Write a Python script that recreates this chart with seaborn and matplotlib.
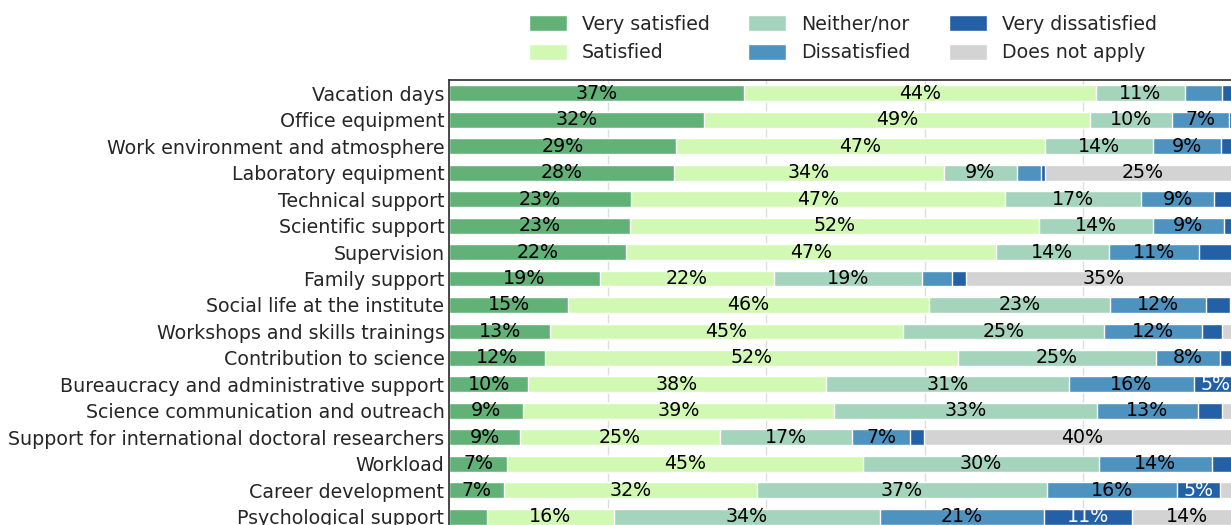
import pandas as pd
import seaborn as sns
import matplotlib.pyplot as plt
from matplotlib.patches import Patch

topics = [
    "Vacation days", "Office equipment", "Work environment and atmosphere",
    "Laboratory equipment", "Technical support", "Scientific support",
    "Supervision", "Family support", "Social life at the institute",
    "Workshops and skills trainings", "Contribution to science",
    "Bureaucracy and administrative support", "Science communication and outreach",
    "Support for international doctoral researchers", "Workload",
    "Career development", "Psychological support",
]

very_satisfied = [37.2, 32.2, 28.6, 28.4, 22.9, 22.8, 22.3, 19.0, 15.0, 12.7, 12.1, 9.9, 9.3, 8.9, 7.3, 6.9, 4.7]
satisfied = [44.4, 48.7, 46.6, 34.0, 47.3, 51.6, 46.7, 22.0, 45.6, 44.6, 52.1, 37.7, 39.3, 25.3, 44.9, 31.9, 16.1]
neither = [11.3, 10.3, 13.6, 9.3, 17.1, 14.4, 14.3, 18.7, 22.8, 25.4, 25.0, 30.6, 33.2, 16.7, 29.8, 36.7, 33.6]
dissatisfied = [4.7, 7.2, 8.6, 3.0, 9.3, 9.0, 11.3, 3.8, 12.1, 12.3, 8.1, 15.8, 12.7, 7.3, 14.3, 16.4, 20.7]
very_dissatisfied = [2.4, 1.6, 2.6, 0.5, 3.4, 2.2, 4.8, 1.8, 3.1, 2.5, 2.7, 5.4, 3.0, 1.7, 3.7, 5.4, 11.1]
not_apply = [0.0, 0.0, 0.0, 24.8, 0.0, 0.0, 0.6, 34.7, 1.4, 2.5, 0.0, 0.6, 2.5, 40.1, 0.0, 2.7, 13.8]

responses = ["Very satisfied", "Satisfied", "Neither/nor",
             "Dissatisfied", "Very dissatisfied", "Does not apply"]
colors = ["#62b177", "#d1f9b3", "#a5d4bc", "#4e93c0", "#2360a5", "#d3d3d3"]

df = pd.DataFrame(
    dict(zip(responses, [very_satisfied, satisfied, neither,
                         dissatisfied, very_dissatisfied, not_apply])),
    index=topics,
)
cum = df.cumsum(axis=1)

sns.set_style("whitegrid")
plt.rcParams["font.family"] = ["DejaVu Sans"]
fs = 13.7

W, H = 1231, 525
fig = plt.figure(figsize=(W / 100, H / 100), dpi=100)
ax = fig.add_axes([449.3 / W, -5 / H, 792 / W, 450 / H])

# stacked bars: draw the cumulative totals from the right end backwards
for col, color in reversed(list(zip(responses, colors))):
    sns.barplot(x=cum[col].values, y=topics, color=color, orient="h",
                width=0.6, saturation=1, ax=ax, zorder=2)

for i, topic in enumerate(topics):
    for col in responses:
        val = df.loc[topic, col]
        if val >= 5:
            left = cum.loc[topic, col] - val
            ax.text(left + val / 2, i, f"{val:.0f}%", ha="center", va="center",
                    fontsize=fs, color="white" if col == "Very dissatisfied" else "black",
                    zorder=3)

ax.set_xlim(0, 100)
ax.set_xticks([0, 20, 40, 60, 80, 100])
ax.tick_params(axis="x", labelbottom=False, length=0)
ax.tick_params(axis="y", length=0, pad=3.5, labelsize=fs, labelcolor="#262626")
ax.set_xlabel("")
ax.set_ylabel("")
ax.grid(axis="x", color="#dddddd", linewidth=1)
ax.grid(axis="y", visible=False)
ax.set_axisbelow(True)
for sp in ax.spines.values():
    sp.set_visible(True)
    sp.set_color("#333333")
    sp.set_linewidth(1.25)

handles = [Patch(facecolor=c, label=r) for r, c in zip(responses, colors)]
fig.legend(handles=handles, ncol=3, frameon=False, fontsize=fs,
           loc="center", bbox_to_anchor=(843 / W, 1 - 38.5 / H),
           handleheight=0.9, labelcolor="#262626")

fig.savefig("out.png", dpi=100)
